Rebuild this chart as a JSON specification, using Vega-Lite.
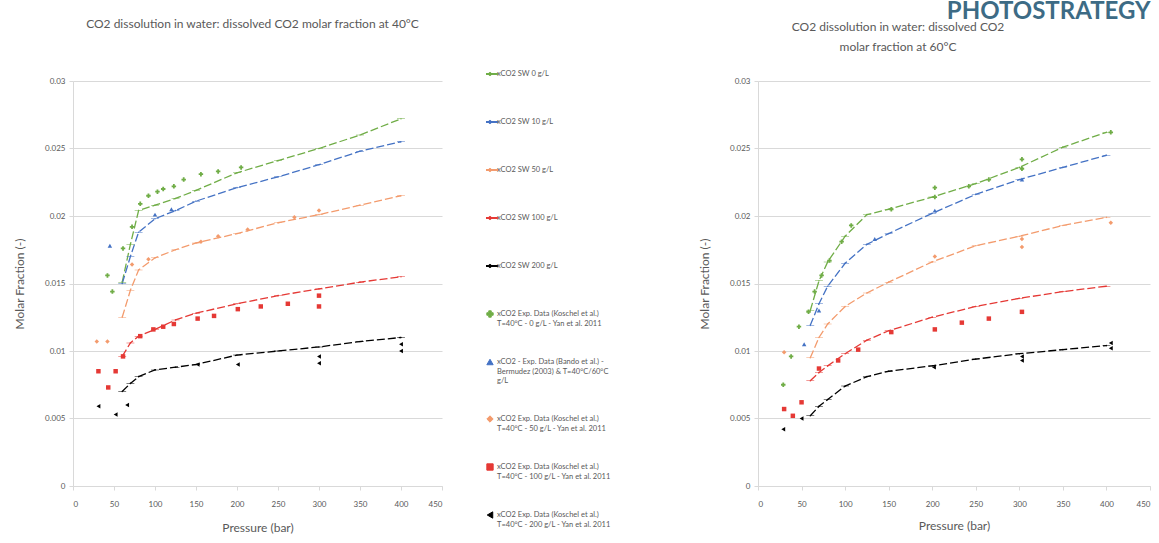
{
  "$schema": "https://vega.github.io/schema/vega-lite/v6.json",
  "background": "white",
  "padding": {"left": 13, "top": 0, "right": 2, "bottom": 2},
  "config": {
    "font": "Lato",
    "view": {"stroke": null},
    "axis": {"labelColor": "#595959", "titleColor": "#595959", "labelFontSize": 8, "titleFontSize": 12, "titleFontWeight": "normal", "gridColor": "#d9d9d9", "domainColor": "#d9d9d9", "tickColor": "#d9d9d9", "tickSize": 4, "labelPadding": 4},
    "title": {"fontSize": 12, "fontWeight": "normal", "color": "#595959"},
    "legend": {"labelFontSize": 7.5, "labelColor": "#595959", "rowPadding": 20, "clipHeight": 28, "symbolSize": 40, "labelLimit": 220, "labelOffset": 3, "symbolStrokeWidth": 1}
  },
  "title": {"text": "PHOTOSTRATEGY", "anchor": "end", "fontSize": 24, "fontWeight": "bold", "color": "#3d6b85", "offset": -6},
  "datasets": {
    "m40": [
      {"s":"A1","p":60,"x":0.0151},{"s":"A1","p":70,"x":0.0179},{"s":"A1","p":80,"x":0.0204},{"s":"A1","p":100,"x":0.0208},{"s":"A1","p":125,"x":0.0213},{"s":"A1","p":150,"x":0.0219},{"s":"A1","p":200,"x":0.0232},{"s":"A1","p":250,"x":0.0241},{"s":"A1","p":300,"x":0.0250},{"s":"A1","p":350,"x":0.0260},{"s":"A1","p":400,"x":0.0272},
      {"s":"A2","p":60,"x":0.0150},{"s":"A2","p":70,"x":0.0170},{"s":"A2","p":80,"x":0.0188},{"s":"A2","p":100,"x":0.0198},{"s":"A2","p":125,"x":0.0204},{"s":"A2","p":150,"x":0.0211},{"s":"A2","p":200,"x":0.0221},{"s":"A2","p":250,"x":0.0229},{"s":"A2","p":300,"x":0.0238},{"s":"A2","p":350,"x":0.0248},{"s":"A2","p":400,"x":0.0255},
      {"s":"A3","p":60,"x":0.0125},{"s":"A3","p":70,"x":0.0145},{"s":"A3","p":80,"x":0.0160},{"s":"A3","p":100,"x":0.0169},{"s":"A3","p":125,"x":0.0175},{"s":"A3","p":150,"x":0.0180},{"s":"A3","p":200,"x":0.0187},{"s":"A3","p":250,"x":0.0195},{"s":"A3","p":300,"x":0.0201},{"s":"A3","p":350,"x":0.0208},{"s":"A3","p":400,"x":0.0215},
      {"s":"A4","p":60,"x":0.0096},{"s":"A4","p":70,"x":0.0106},{"s":"A4","p":80,"x":0.0111},{"s":"A4","p":100,"x":0.0116},{"s":"A4","p":125,"x":0.0123},{"s":"A4","p":150,"x":0.0128},{"s":"A4","p":200,"x":0.0135},{"s":"A4","p":250,"x":0.0141},{"s":"A4","p":300,"x":0.0146},{"s":"A4","p":350,"x":0.0151},{"s":"A4","p":400,"x":0.0155},
      {"s":"A5","p":60,"x":0.0070},{"s":"A5","p":70,"x":0.0076},{"s":"A5","p":80,"x":0.0081},{"s":"A5","p":100,"x":0.0086},{"s":"A5","p":125,"x":0.0088},{"s":"A5","p":150,"x":0.0090},{"s":"A5","p":200,"x":0.0097},{"s":"A5","p":250,"x":0.0100},{"s":"A5","p":300,"x":0.0103},{"s":"A5","p":350,"x":0.0107},{"s":"A5","p":400,"x":0.0110}
    ],
    "e40": [
      {"s":"B1","p":42,"x":0.0156},{"s":"B1","p":48,"x":0.0144},{"s":"B1","p":61,"x":0.0176},{"s":"B1","p":72,"x":0.0192},{"s":"B1","p":82,"x":0.0209},{"s":"B1","p":92,"x":0.0215},{"s":"B1","p":103,"x":0.0218},{"s":"B1","p":110,"x":0.0220},{"s":"B1","p":123,"x":0.0222},{"s":"B1","p":135,"x":0.0227},{"s":"B1","p":156,"x":0.0231},{"s":"B1","p":177,"x":0.0233},{"s":"B1","p":205,"x":0.0236},
      {"s":"B2","p":45,"x":0.0178},{"s":"B2","p":100,"x":0.0201},{"s":"B2","p":120,"x":0.0205},
      {"s":"B3","p":29,"x":0.0107},{"s":"B3","p":42,"x":0.0107},{"s":"B3","p":72,"x":0.0164},{"s":"B3","p":92,"x":0.0168},{"s":"B3","p":156,"x":0.0181},{"s":"B3","p":177,"x":0.0185},{"s":"B3","p":213,"x":0.0190},{"s":"B3","p":270,"x":0.0199},{"s":"B3","p":300,"x":0.0204},
      {"s":"B4","p":31,"x":0.0085},{"s":"B4","p":52,"x":0.0085},{"s":"B4","p":43,"x":0.0073},{"s":"B4","p":61,"x":0.0096},{"s":"B4","p":82,"x":0.0111},{"s":"B4","p":98,"x":0.0116},{"s":"B4","p":110,"x":0.0118},{"s":"B4","p":123,"x":0.0120},{"s":"B4","p":152,"x":0.0124},{"s":"B4","p":172,"x":0.0126},{"s":"B4","p":201,"x":0.0131},{"s":"B4","p":229,"x":0.0133},{"s":"B4","p":262,"x":0.0135},{"s":"B4","p":300,"x":0.0141},{"s":"B4","p":300,"x":0.0133},
      {"s":"B5","p":31,"x":0.0059},{"s":"B5","p":52,"x":0.0053},{"s":"B5","p":66,"x":0.0060},{"s":"B5","p":152,"x":0.0090},{"s":"B5","p":201,"x":0.0090},{"s":"B5","p":300,"x":0.0096},{"s":"B5","p":300,"x":0.0091},{"s":"B5","p":400,"x":0.0105},{"s":"B5","p":400,"x":0.0100}
    ],
    "m60": [
      {"s":"A1","p":60,"x":0.0130},{"s":"A1","p":70,"x":0.0152},{"s":"A1","p":80,"x":0.0166},{"s":"A1","p":100,"x":0.0185},{"s":"A1","p":125,"x":0.0201},{"s":"A1","p":150,"x":0.0205},{"s":"A1","p":200,"x":0.0214},{"s":"A1","p":250,"x":0.0224},{"s":"A1","p":300,"x":0.0236},{"s":"A1","p":350,"x":0.0251},{"s":"A1","p":400,"x":0.0262},
      {"s":"A2","p":60,"x":0.0119},{"s":"A2","p":70,"x":0.0135},{"s":"A2","p":80,"x":0.0148},{"s":"A2","p":100,"x":0.0165},{"s":"A2","p":125,"x":0.0179},{"s":"A2","p":150,"x":0.0187},{"s":"A2","p":200,"x":0.0202},{"s":"A2","p":250,"x":0.0216},{"s":"A2","p":300,"x":0.0227},{"s":"A2","p":350,"x":0.0236},{"s":"A2","p":400,"x":0.0245},
      {"s":"A3","p":60,"x":0.0095},{"s":"A3","p":70,"x":0.0110},{"s":"A3","p":80,"x":0.0120},{"s":"A3","p":100,"x":0.0133},{"s":"A3","p":125,"x":0.0143},{"s":"A3","p":150,"x":0.0151},{"s":"A3","p":200,"x":0.0166},{"s":"A3","p":250,"x":0.0178},{"s":"A3","p":300,"x":0.0185},{"s":"A3","p":350,"x":0.0193},{"s":"A3","p":400,"x":0.0199},
      {"s":"A4","p":60,"x":0.0078},{"s":"A4","p":70,"x":0.0084},{"s":"A4","p":80,"x":0.0089},{"s":"A4","p":100,"x":0.0098},{"s":"A4","p":125,"x":0.0108},{"s":"A4","p":150,"x":0.0115},{"s":"A4","p":200,"x":0.0125},{"s":"A4","p":250,"x":0.0133},{"s":"A4","p":300,"x":0.0139},{"s":"A4","p":350,"x":0.0144},{"s":"A4","p":400,"x":0.0148},
      {"s":"A5","p":60,"x":0.0052},{"s":"A5","p":70,"x":0.0059},{"s":"A5","p":80,"x":0.0064},{"s":"A5","p":100,"x":0.0074},{"s":"A5","p":125,"x":0.0081},{"s":"A5","p":150,"x":0.0085},{"s":"A5","p":200,"x":0.0089},{"s":"A5","p":250,"x":0.0094},{"s":"A5","p":300,"x":0.0098},{"s":"A5","p":350,"x":0.0101},{"s":"A5","p":400,"x":0.0104}
    ],
    "e60": [
      {"s":"B1","p":29,"x":0.0075},{"s":"B1","p":38,"x":0.0096},{"s":"B1","p":47,"x":0.0118},{"s":"B1","p":58,"x":0.0129},{"s":"B1","p":65,"x":0.0144},{"s":"B1","p":73,"x":0.0156},{"s":"B1","p":82,"x":0.0167},{"s":"B1","p":96,"x":0.0181},{"s":"B1","p":107,"x":0.0193},{"s":"B1","p":153,"x":0.0205},{"s":"B1","p":203,"x":0.0221},{"s":"B1","p":203,"x":0.0214},{"s":"B1","p":242,"x":0.0222},{"s":"B1","p":265,"x":0.0227},{"s":"B1","p":303,"x":0.0242},{"s":"B1","p":303,"x":0.0235},{"s":"B1","p":405,"x":0.0262},
      {"s":"B2","p":53,"x":0.0105},{"s":"B2","p":70,"x":0.0130},{"s":"B2","p":134,"x":0.0183},{"s":"B2","p":203,"x":0.0204},{"s":"B2","p":303,"x":0.0227},
      {"s":"B3","p":30,"x":0.0099},{"s":"B3","p":203,"x":0.0170},{"s":"B3","p":303,"x":0.0183},{"s":"B3","p":303,"x":0.0177},{"s":"B3","p":405,"x":0.0195},
      {"s":"B4","p":30,"x":0.0057},{"s":"B4","p":40,"x":0.0052},{"s":"B4","p":50,"x":0.0062},{"s":"B4","p":70,"x":0.0087},{"s":"B4","p":92,"x":0.0093},{"s":"B4","p":115,"x":0.0101},{"s":"B4","p":153,"x":0.0114},{"s":"B4","p":203,"x":0.0116},{"s":"B4","p":234,"x":0.0121},{"s":"B4","p":265,"x":0.0124},{"s":"B4","p":303,"x":0.0129},
      {"s":"B5","p":29,"x":0.0042},{"s":"B5","p":50,"x":0.0050},{"s":"B5","p":202,"x":0.0088},{"s":"B5","p":303,"x":0.0096},{"s":"B5","p":303,"x":0.0093},{"s":"B5","p":405,"x":0.0102},{"s":"B5","p":405,"x":0.0106}
    ]
  },
  "spacing": 87,
  "resolve": {"scale": {"color": "independent", "shape": "independent"}, "legend": {"color": "independent", "shape": "independent"}},
  "hconcat": [
    {
      "width": 369,
      "height": 405,
      "title": {"text": "CO2 dissolution in water: dissolved CO2 molar fraction at 40°C", "offset": 29, "dx": -5},
      "encoding": {
        "x": {"field": "p", "type": "quantitative", "scale": {"domain": [0, 450], "nice": false}, "axis": {"values": [0, 50, 100, 150, 200, 250, 300, 350, 400, 450], "title": "Pressure (bar)", "grid": false, "labelPadding": 10, "titlePadding": 14}},
        "y": {"field": "x", "type": "quantitative", "scale": {"domain": [0, 0.03], "nice": false}, "axis": {"values": [0, 0.005, 0.01, 0.015, 0.02, 0.025, 0.03], "format": "~g", "title": "Molar Fraction (-)", "titlePadding": 18}},
        "color": {"field": "s", "type": "nominal", "scale": {"domain": ["A1","A2","A3","A4","A5","B1","B2","B3","B4","B5"], "range": ["#70AD47","#4472C4","#F39B6D","#E53935","#000000","#70AD47","#4472C4","#F39B6D","#E53935","#000000"]},
          "legend": {"title": null, "orient": "none", "legendX": 413, "legendY": -21, "labelExpr": "split({A1:'xCO2 SW 0 g/L',A2:'xCO2 SW 10 g/L',A3:'xCO2 SW 50 g/L',A4:'xCO2 SW 100 g/L',A5:'xCO2 SW 200 g/L',B1:'xCO2 Exp. Data (Koschel et al.)|T=40°C - 0 g/L - Yan et al. 2011',B2:'xCO2 - Exp. Data (Bando et al.) -|Bermudez (2003) & T=40°C/60°C|g/L',B3:'xCO2 Exp. Data (Koschel et al.)|T=40°C - 50 g/L - Yan et al. 2011',B4:'xCO2 Exp. Data (Koschel et al.)|T=40°C - 100 g/L - Yan et al. 2011',B5:'xCO2 Exp. Data (Koschel et al.)|T=40°C - 200 g/L - Yan et al. 2011'}[datum.label], '|')"}}
      },
      "layer": [
        {"data": {"name": "m40"}, "mark": {"type": "line", "strokeWidth": 1.3, "strokeDash": [8, 3]}, "encoding": {}},
        {"data": {"name": "m40"}, "mark": {"type": "point", "filled": true, "size": 10, "opacity": 1},
          "encoding": {"shape": {"field": "s", "type": "nominal", "scale": {"domain": ["A1","A2","A3","A4","A5","B1","B2","B3","B4","B5"], "range": ["M-2.5,-0.15H2.5V0.15H-2.5Z M0.5,0A0.5,0.5,0,1,1,-0.5,0A0.5,0.5,0,1,1,0.5,0Z","M-2.5,-0.15H2.5V0.15H-2.5Z M0.5,0A0.5,0.5,0,1,1,-0.5,0A0.5,0.5,0,1,1,0.5,0Z","M-2.5,-0.15H2.5V0.15H-2.5Z M0.5,0A0.5,0.5,0,1,1,-0.5,0A0.5,0.5,0,1,1,0.5,0Z","M-2.5,-0.15H2.5V0.15H-2.5Z M0.5,0A0.5,0.5,0,1,1,-0.5,0A0.5,0.5,0,1,1,0.5,0Z","M-2.5,-0.15H2.5V0.15H-2.5Z M0.5,0A0.5,0.5,0,1,1,-0.5,0A0.5,0.5,0,1,1,0.5,0Z","cross","triangle-up","diamond","square","triangle-left"]},
            "legend": {"title": null, "orient": "none", "legendX": 413, "legendY": -21, "labelExpr": "split({A1:'xCO2 SW 0 g/L',A2:'xCO2 SW 10 g/L',A3:'xCO2 SW 50 g/L',A4:'xCO2 SW 100 g/L',A5:'xCO2 SW 200 g/L',B1:'xCO2 Exp. Data (Koschel et al.)|T=40°C - 0 g/L - Yan et al. 2011',B2:'xCO2 - Exp. Data (Bando et al.) -|Bermudez (2003) & T=40°C/60°C|g/L',B3:'xCO2 Exp. Data (Koschel et al.)|T=40°C - 50 g/L - Yan et al. 2011',B4:'xCO2 Exp. Data (Koschel et al.)|T=40°C - 100 g/L - Yan et al. 2011',B5:'xCO2 Exp. Data (Koschel et al.)|T=40°C - 200 g/L - Yan et al. 2011'}[datum.label], '|')"}}}},
        {"data": {"name": "e40"}, "mark": {"type": "point", "filled": true, "size": 20, "opacity": 1},
          "encoding": {"shape": {"field": "s", "type": "nominal"}}}
      ]
    },
    {
      "width": 392,
      "height": 405,
      "title": {"text": ["CO2 dissolution in water: dissolved CO2", "molar fraction at 60°C"], "offset": 23, "dx": -56, "lineHeight": 20},
      "encoding": {
        "x": {"field": "p", "type": "quantitative", "scale": {"domain": [0, 450], "nice": false}, "axis": {"values": [0, 50, 100, 150, 200, 250, 300, 350, 400, 450], "title": "Pressure (bar)", "grid": false, "labelPadding": 10, "titlePadding": 12}},
        "y": {"field": "x", "type": "quantitative", "scale": {"domain": [0, 0.03], "nice": false}, "axis": {"values": [0, 0.005, 0.01, 0.015, 0.02, 0.025, 0.03], "format": "~g", "title": "Molar Fraction (-)", "titlePadding": 18}},
        "color": {"field": "s", "type": "nominal", "scale": {"domain": ["A1","A2","A3","A4","A5","B1","B2","B3","B4","B5"], "range": ["#70AD47","#4472C4","#F39B6D","#E53935","#000000","#70AD47","#4472C4","#F39B6D","#E53935","#000000"]}, "legend": null}
      },
      "layer": [
        {"data": {"name": "m60"}, "mark": {"type": "line", "strokeWidth": 1.3, "strokeDash": [8, 3]}, "encoding": {}},
        {"data": {"name": "m60"}, "mark": {"type": "point", "filled": true, "size": 10, "opacity": 1},
          "encoding": {"shape": {"field": "s", "type": "nominal", "scale": {"domain": ["A1","A2","A3","A4","A5","B1","B2","B3","B4","B5"], "range": ["M-2.5,-0.15H2.5V0.15H-2.5Z M0.5,0A0.5,0.5,0,1,1,-0.5,0A0.5,0.5,0,1,1,0.5,0Z","M-2.5,-0.15H2.5V0.15H-2.5Z M0.5,0A0.5,0.5,0,1,1,-0.5,0A0.5,0.5,0,1,1,0.5,0Z","M-2.5,-0.15H2.5V0.15H-2.5Z M0.5,0A0.5,0.5,0,1,1,-0.5,0A0.5,0.5,0,1,1,0.5,0Z","M-2.5,-0.15H2.5V0.15H-2.5Z M0.5,0A0.5,0.5,0,1,1,-0.5,0A0.5,0.5,0,1,1,0.5,0Z","M-2.5,-0.15H2.5V0.15H-2.5Z M0.5,0A0.5,0.5,0,1,1,-0.5,0A0.5,0.5,0,1,1,0.5,0Z","cross","triangle-up","diamond","square","triangle-left"]}, "legend": null}}},
        {"data": {"name": "e60"}, "mark": {"type": "point", "filled": true, "size": 20, "opacity": 1},
          "encoding": {"shape": {"field": "s", "type": "nominal", "legend": null}}}
      ]
    }
  ]
}
